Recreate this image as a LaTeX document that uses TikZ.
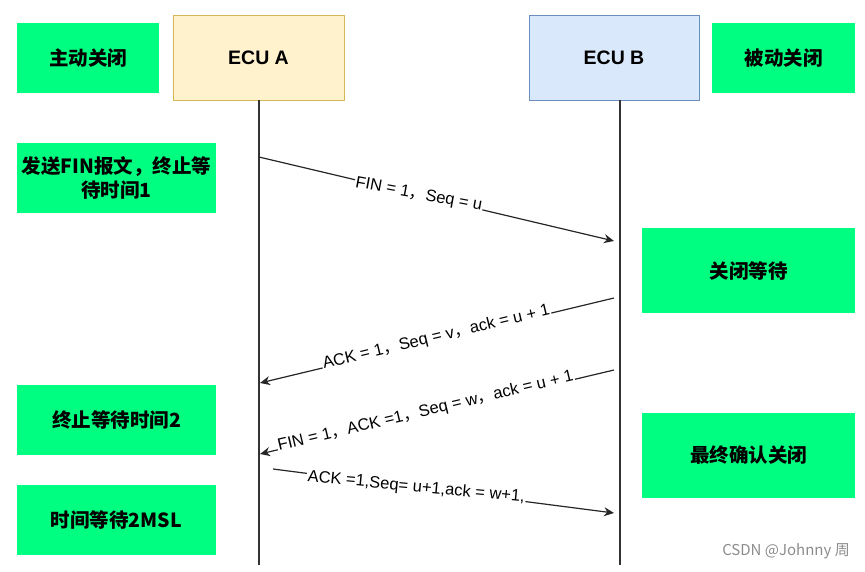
\documentclass[tikz,border=0pt]{standalone}
\usepackage{fontspec}
\setmainfont{Liberation Sans}
\newfontfamily\cjk{Noto Sans CJK SC}
\usetikzlibrary{arrows.meta}
\definecolor{grn}{HTML}{00FF80}
\definecolor{yfill}{HTML}{FFF2CC}
\definecolor{ydraw}{HTML}{D6B656}
\definecolor{bfill}{HTML}{DAE8FC}
\definecolor{bdraw}{HTML}{6C8EBF}
\definecolor{lifec}{HTML}{333333}
\newcommand{\zc}{{\cjk ，}}
\tikzset{
  gbox/.style={fill=grn, draw=none, inner sep=0pt, font=\fontsize{19.5}{24}\selectfont\cjk\bfseries, align=center},
  ecu/.style={inner sep=0pt, font=\fontsize{19.5}{23}\selectfont\bfseries},
  life/.style={draw=lifec, line width=1.4pt},
  msg/.style={draw=black!85, line width=1.2pt, -{Stealth[length=10pt,width=9pt]}},
  lbl/.style={fill=white, inner sep=1pt, font=\fontsize{16.5}{19}\selectfont}
}
\begin{document}
\begin{tikzpicture}[x=1pt,y=-1pt]
\useasboundingbox (0,0) rectangle (865,571);
% ECU boxes
\node[ecu, fill=yfill, draw=ydraw, line width=1pt, minimum width=171pt, minimum height=85pt] (ea) at (258.5,57.5) {ECU A};
\node[ecu, fill=bfill, draw=bdraw, line width=1pt, minimum width=170pt, minimum height=85pt] (eb) at (614,57.5) {ECU B};
% green boxes
\node[gbox, minimum width=142pt, minimum height=70pt] (g1) at (88,58) {主动关闭};
\node[gbox, minimum width=143pt, minimum height=70pt] (g2) at (783.5,58) {被动关闭};
\node[gbox, minimum width=199pt, minimum height=70pt] (g3) at (116.5,178) {发送FIN报文，终止等\\待时间1};
\node[gbox, minimum width=213pt, minimum height=85pt] (g4) at (748.5,270.5) {关闭等待};
\node[gbox, minimum width=199pt, minimum height=70pt] (g5) at (116.5,420) {终止等待时间2};
\node[gbox, minimum width=213pt, minimum height=85pt] (g6) at (748.5,455.5) {最终确认关闭};
\node[gbox, minimum width=199pt, minimum height=70pt] (g7) at (116.5,520) {时间等待2MSL};
% lifelines
\coordinate (at) at (259,100);
\coordinate (bt) at (620,100);
\coordinate (ae) at (259,565);
\coordinate (be) at (620,565);
\draw[life] (at) -- (ae);
\draw[life] (bt) -- (be);
% message end points
\coordinate (m1s) at (259,157);
\coordinate (m1e) at (614,241);
\coordinate (m2s) at (614,298);
\coordinate (m2e) at (260,383);
\coordinate (m3s) at (614,370);
\coordinate (m3e) at (260,454);
\coordinate (m4s) at (273,469);
\coordinate (m4e) at (614,513);
\draw[msg] (m1s) -- node[lbl, pos=0.45, rotate=-10.5] {FIN = 1\zc Seq = u} (m1e);
\draw[msg] (m2s) -- node[lbl, sloped, pos=0.5, yshift=3pt] {ACK = 1\zc Seq = v\zc ack = u + 1} (m2e);
\draw[msg] (m3s) -- node[lbl, sloped, pos=0.53, yshift=3pt] {FIN = 1\zc ACK =1\zc Seq = w\zc ack = u + 1} (m3e);
\draw[msg] (m4s) -- node[lbl, pos=0.42, rotate=-5.5] {ACK =1,Seq= u+1,ack = w+1,} (m4e);
% watermark
\node[font=\fontsize{15}{18}\selectfont\cjk, text=black!45, anchor=east, inner sep=0pt] (wm) at (850,551) {CSDN @Johnny 周};
\end{tikzpicture}
\end{document}
